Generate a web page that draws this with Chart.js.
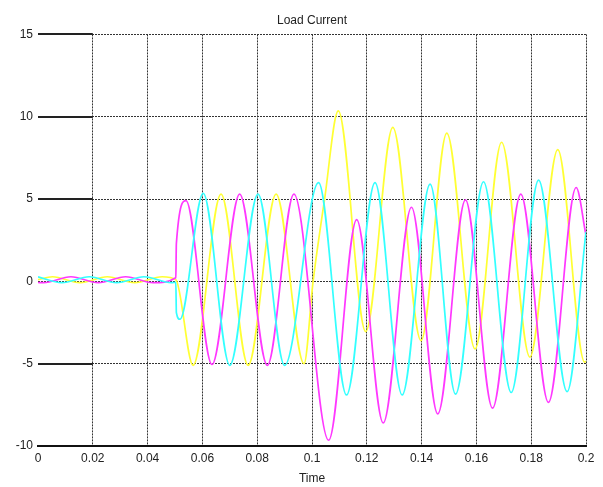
<!DOCTYPE html>
<html>
<head>
<meta charset="utf-8">
<title>Load Current</title>
<script src="https://cdn.jsdelivr.net/npm/chart.js@4.4.1/dist/chart.umd.min.js"></script>
<style>
  html, body { margin: 0; padding: 0; background: #fff; }
</style>
</head>
<body>
<canvas id="current" width="603" height="487"></canvas>
<script>
// three phase load currents: each trace listed by its peaks / troughs (s, A)
const yellowTime = [0, 0.0053, 0.0153, 0.0253, 0.0353, 0.0453, 0.0503, 0.0566, 0.0668, 0.0767, 0.0869, 0.0971,
  0.1004, 0.1046, 0.1096, 0.1196, 0.1295, 0.1398, 0.1492, 0.1595, 0.1692, 0.1795, 0.1897, 0.1995, 0.2];
const yellowAmps = [0.1, 0.28, -0.08, 0.28, -0.08, 0.28, 0.1, -5.1, 5.3, -5.1, 5.3, -5.0,
  0.0, 5.0, 10.35, -3.05, 9.35, -3.6, 9.0, -4.1, 8.45, -4.6, 8.0, -4.9, -4.85];

const cyanTime = [0, 0.0087, 0.0187, 0.0287, 0.0387, 0.0487, 0.0503, 0.0505, 0.0518, 0.0603, 0.0700, 0.0803,
  0.0900, 0.1024, 0.1126, 0.1230, 0.1329, 0.1431, 0.1524, 0.1626, 0.1727, 0.1827, 0.1931, 0.2];
const cyanAmps = [0.27, -0.08, 0.28, -0.08, 0.28, -0.08, -0.06, -1.9, -2.3, 5.35, -5.1, 5.3,
  -5.1, 6.0, -6.9, 6.0, -6.9, 5.9, -6.85, 6.05, -6.75, 6.15, -6.7, 3.0];

const magentaTime = [0, 0.002, 0.012, 0.022, 0.032, 0.042, 0.0503, 0.0505, 0.054, 0.0635, 0.0736, 0.0837,
  0.0934, 0.1061, 0.1163, 0.1260, 0.1363, 0.1459, 0.1560, 0.1659, 0.1762, 0.1863, 0.1964, 0.2];
const magentaAmps = [-0.07, -0.08, 0.28, -0.08, 0.28, -0.08, 0.22, 2.3, 4.9, -5.05, 5.3, -5.1,
  5.3, -9.65, 3.75, -8.6, 4.5, -8.05, 4.95, -7.7, 5.3, -7.35, 5.7, 2.8];

const xTickLabels = ['0', '0.02', '0.04', '0.06', '0.08', '0.1', '0.12', '0.14', '0.16', '0.18', '0.2'];
const yTickLabels = ['-10', '-5', '0', '5', '10', '15'];
// heavy marks drawn from t=0 to the first grid line
const markedLevels = [15, 10, 5, -5];

const font = { family: "'Liberation Sans', Arial, sans-serif", size: 12 };

function points(ts, vs) {
  return ts.map((t, i) => ({ x: t, y: vs[i] }));
}

function trace(label, ts, vs, color) {
  return {
    label: label,
    data: points(ts, vs),
    borderColor: color,
    borderWidth: 1.7,
    pointRadius: 0,
    fill: false,
    cubicInterpolationMode: 'monotone'
  };
}

const levelMarks = {
  id: 'levelMarks',
  beforeDatasetsDraw(chart) {
    const { ctx, scales: { x, y } } = chart;
    ctx.save();
    ctx.strokeStyle = '#222';
    ctx.lineWidth = 2;
    markedLevels.forEach(v => {
      const py = Math.round(y.getPixelForValue(v));
      ctx.beginPath();
      ctx.moveTo(x.getPixelForValue(0), py);
      ctx.lineTo(x.getPixelForValue(0.02), py);
      ctx.stroke();
    });
    ctx.restore();
  }
};

new Chart(document.getElementById('current'), {
  type: 'line',
  data: {
    datasets: [
      trace('Ic', cyanTime, cyanAmps, '#33ffff'),
      trace('Ib', magentaTime, magentaAmps, '#ff38ff'),
      trace('Ia', yellowTime, yellowAmps, '#ffff33')
    ]
  },
  options: {
    responsive: false,
    animation: false,
    layout: { padding: { left: 0, right: 17, top: 0, bottom: 0 } },
    plugins: {
      legend: { display: false },
      tooltip: { enabled: false },
      title: {
        display: true,
        text: 'Load Current',
        fullSize: false,
        color: '#222',
        font: { ...font, weight: 'normal' },
        padding: { top: 13, bottom: 7 }
      }
    },
    scales: {
      x: {
        type: 'linear',
        min: 0,
        max: 0.2,
        afterFit(scale) { scale.height = 41; },
        ticks: {
          stepSize: 0.02,
          autoSkip: false,
          maxRotation: 0,
          padding: 5,
          color: '#222',
          font: font,
          callback: (v, i) => xTickLabels[i]
        },
        grid: {
          drawTicks: false,
          color: ctx => ctx.index === 0 ? 'rgba(0,0,0,0)' : '#333'
        },
        border: { display: true, color: '#111', width: 2, dash: [2, 1] },
        title: {
          display: true,
          text: 'Time',
          color: '#222',
          font: font,
          padding: { top: 0, bottom: 1 }
        }
      },
      y: {
        min: -10,
        max: 15,
        afterFit(scale) { scale.width = 38; },
        ticks: {
          stepSize: 5,
          padding: 5,
          color: '#222',
          font: font,
          callback: (v, i) => yTickLabels[i]
        },
        grid: { drawTicks: false, color: '#333' },
        border: { display: false, dash: [2, 1] }
      }
    }
  },
  plugins: [levelMarks]
});
</script>
</body>
</html>
